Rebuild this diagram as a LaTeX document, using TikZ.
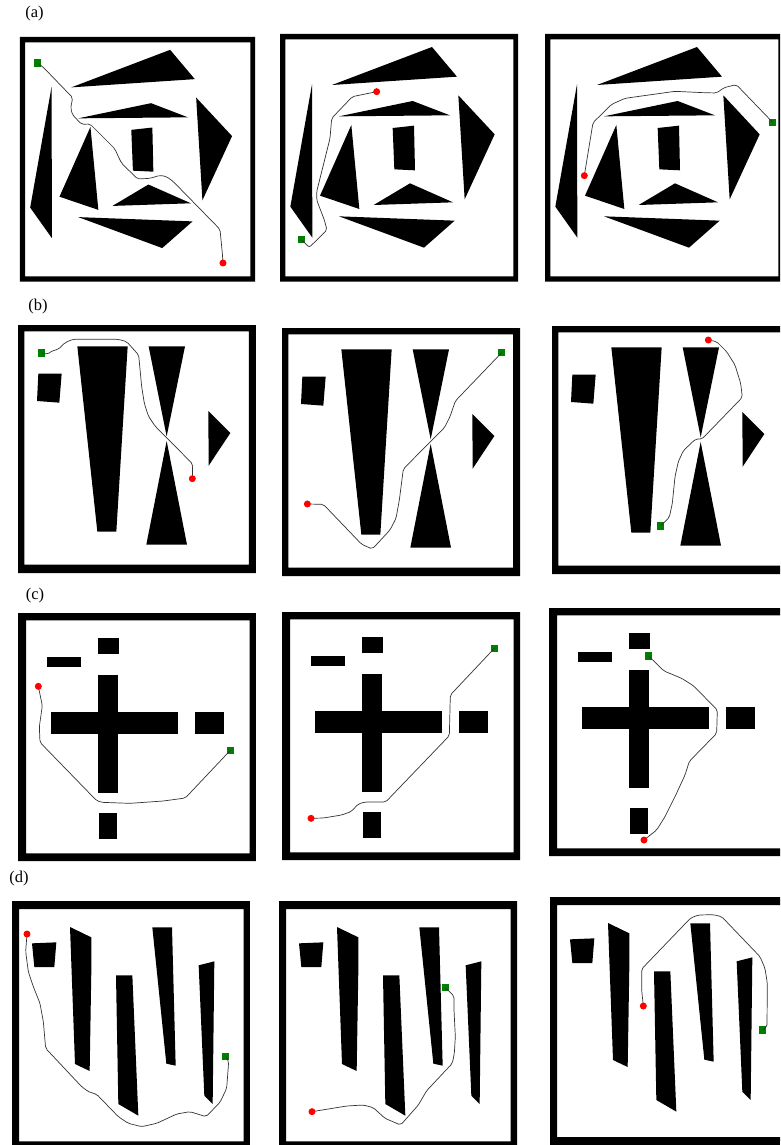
\documentclass[tikz,border=0pt]{standalone}
\usepackage{fontspec}
\setmainfont{Liberation Serif}
\definecolor{goalgreen}{RGB}{0,128,0}
\definecolor{startred}{RGB}{255,0,0}
\tikzset{
  route/.style={draw=black!80,line width=0.7pt,line join=round,rounded corners=2pt},
  goalbox/.style={fill=goalgreen,draw=none,rectangle,minimum width=7pt,minimum height=7.2pt,inner sep=0pt},
  startdot/.style={fill=startred,draw=none,circle,minimum size=7pt,inner sep=0pt},
  panellabel/.style={font=\fontsize{16.5}{19}\selectfont,inner sep=0pt},
  obstacle/.style={fill=black,draw=none}
}
\newcommand{\panelframe}[8]{\fill[black,even odd rule] (#1,#2) rectangle (#3,#4) (#5,#6) rectangle (#7,#8);}
\newcommand{\runroute}[4]{%
  \node[goalbox] (#1g) at (#2) {};
  \coordinate (#1c) at (#3);
  \draw[route] (#1g.center) #4 -- (#1c);
  \node[startdot] (#1r) at (#1c) {};
}
\newcommand{\obstaclesA}{%
  \fill[obstacle] (486,66)--(561,155)--(186,180)--cycle;
  \fill[obstacle] (428,228)--(540,271)--(207,274)--cycle;
  \fill[obstacle] (126,178)--(127,638)--(61,545)--cycle;
  \fill[obstacle] (244,300)--(268,552)--(150,512)--cycle;
  \fill[obstacle] (368,309)--(432,302)--(435,436)--(373,433)--cycle;
  \fill[obstacle] (565,211)--(674,328)--(584,523)--cycle;
  \fill[obstacle] (420,475)--(549,532)--(311,540)--cycle;
  \fill[obstacle] (207,574)--(554,587)--(462,668)--cycle;
  \panelframe{30}{27}{744}{770}{46}{43}{730}{754}
}
\newcommand{\obstaclesB}{%
  \fill[obstacle] (214,88)--(365,88)--(331,644)--(274,644)--cycle;
  \fill[obstacle] (428,88)--(537,88)--(482,358)--cycle;
  \fill[obstacle] (421,683)--(543,683)--(482,372)--cycle;
  \fill[obstacle] (97,170)--(167,170)--(160,257)--(93,252)--cycle;
  \fill[obstacle] (607,282)--(673,348)--(608,446)--cycle;
  \panelframe{36}{24}{750}{768}{55}{43}{729}{743}
}
\newcommand{\obstaclesC}{%
  \fill[obstacle] (276,222) rectangle (336,577);
  \fill[obstacle] (136,333) rectangle (515,400);
  \fill[obstacle] (276,110) rectangle (340,160);
  \fill[obstacle] (124,167) rectangle (226,197);
  \fill[obstacle] (567,333) rectangle (655,398);
  \fill[obstacle] (279,636) rectangle (333,713);
  \panelframe{36}{36}{750}{780}{60}{58}{731}{757}
}
\newcommand{\obstaclesD}{%
  \fill[obstacle] (87,160)--(160,157)--(154,231)--(94,231)--cycle;
  \fill[obstacle] (201,111)--(265,142)--(265,240)--(260,543)--(216,522)--cycle;
  \fill[obstacle] (339,256)--(388,256)--(406,677)--(346,642)--cycle;
  \fill[obstacle] (448,112)--(507,112)--(518,527)--(490,521)--cycle;
  \fill[obstacle] (587,226)--(634,214)--(629,642)--(604,617)--cycle;
  \panelframe{27}{33}{741}{765}{48}{57}{722}{754}
}
\begin{document}
\begin{tikzpicture}[x=1pt,y=-1pt]
\useasboundingbox (0,0) rectangle (780,1145);
\clip (0,0) rectangle (780,1145);
\fill[white] (0,0) rectangle (780,1145);
% labels
\node[panellabel] (la) at (34.5,14) {(a)};
\node[panellabel] (lb) at (38,307) {(b)};
\node[panellabel] (lc) at (35,596) {(c)};
\node[panellabel] (ld) at (19,879) {(d)};
% obstacles and frames
\begin{scope}[shift={(10.1,28.1)},scale=0.3293]\obstaclesA\end{scope}
\begin{scope}[shift={(270,25)},scale=1/3]\obstaclesA\end{scope}
\begin{scope}[shift={(535,25)},scale=1/3]\obstaclesA\end{scope}
\begin{scope}[shift={(6,317)},scale=1/3]\obstaclesB\end{scope}
\begin{scope}[shift={(270,320)},scale=1/3]\obstaclesB\end{scope}
\begin{scope}[shift={(540,318)},scale=1/3]\obstaclesB\end{scope}
\begin{scope}[shift={(6,601)},scale=1/3]\obstaclesC\end{scope}
\begin{scope}[shift={(270,600)},scale=1/3]\obstaclesC\end{scope}
\begin{scope}[shift={(537,596)},scale=1/3]\obstaclesC\end{scope}
\begin{scope}[shift={(3,890)},scale=1/3]\obstaclesD\end{scope}
\begin{scope}[shift={(270,890)},scale=1/3]\obstaclesD\end{scope}
\begin{scope}[shift={(541,886)},scale=1/3]\obstaclesD\end{scope}
\fill[black] (550,1137.3) rectangle (780,1145);
% routes, first column
\begin{scope}[scale=1/3]
\runroute{aone}{112,189}{669,789}{-- (128,200) -- (218,293) -- (212,325) -- (218,345) -- (245,373) -- (270,372) -- (345,447) -- (355,470) -- (365,490) -- (413,537) -- (450,535) -- (480,526) -- (500,530) -- (520,545) -- (660,688) -- (667,760)}
\end{scope}
\begin{scope}[shift={(0,290)},scale=1/3]
\runroute{bone}{125,189}{577,566}{-- (143,193) -- (155,183) -- (175,178) -- (195,158) -- (218,148) -- (355,148) -- (380,155) -- (416,195) -- (425,290) -- (433,340) -- (445,378) -- (465,408) -- (578,522)}
\end{scope}
\begin{scope}[shift={(0,580)},scale=1/3]
\runroute{cone}{691,511}{115,319}{-- (556,654) -- (490,663) -- (390,670) -- (305,667) -- (290,662) -- (120,487) -- (118,440) -- (127,377)}
\end{scope}
\begin{scope}[shift={(0,865)},scale=1/3]
\runroute{done}{678,574}{81,207}{-- (686,590) -- (680,670) -- (660,712) -- (618,755) -- (570,740) -- (530,747) -- (470,775) -- (425,785) -- (385,775) -- (355,755) -- (290,688) -- (265,680) -- (245,665) -- (137,550) -- (130,470) -- (120,415) -- (100,365) -- (85,320) -- (77,260)}
\end{scope}
% routes, other columns
\begin{scope}[shift={(270,25)},scale=1/3]
\runroute{atwo}{94,644}{320,200}{-- (118,667) -- (171,615) -- (163,585) -- (140,525) -- (140,500) -- (170,380) -- (180,340) -- (185,280) -- (247,215)}
\runroute{athree}{1508,292}{943,452}{-- (1399,179) -- (1362,188) -- (1340,204) -- (1300,203) -- (1215,199) -- (1065,220) -- (1025,238) -- (969,293)}
\end{scope}
\begin{scope}[shift={(270,320)},scale=1/3]
\runroute{btwo}{695,98}{112,552}{-- (556,243) -- (540,290) -- (524,322) -- (400,447) -- (388,540) -- (378,595) -- (360,630) -- (307,687) -- (275,673) -- (160,553)}
\runroute{bthree}{1172,618}{1315,60}{-- (1198,592) -- (1207,550) -- (1215,470) -- (1225,425) -- (1240,392) -- (1277,357) -- (1296,357) -- (1417,232) -- (1412,190) -- (1395,135) -- (1370,95) -- (1340,65)}
\end{scope}
\begin{scope}[shift={(270,600)},scale=1/3]
\runroute{ctwo}{673,145}{123,655}{-- (541,285) -- (538,407) -- (347,606) -- (285,606) -- (265,612) -- (243,635) -- (215,645) -- (160,654)}
\runroute{cthree}{1136,168}{1122,720}{-- (1182,213) -- (1235,235) -- (1270,257) -- (1342,330) -- (1340,400) -- (1258,484) -- (1245,525) -- (1215,590) -- (1185,650) -- (1160,690)}
\end{scope}
\begin{scope}[shift={(270,890)},scale=1/3]
\runroute{dtwo}{526,293}{126,665}{-- (552,318) -- (552,360) -- (556,440) -- (553,490) -- (547,520) -- (470,602) -- (445,645) -- (392,705) -- (345,685) -- (310,653) -- (280,645) -- (230,648)}
\runroute{dthree}{1478,420}{1120,348}{-- (1491,410) -- (1492,280) -- (1485,235) -- (1470,200) -- (1355,80) -- (1330,74) -- (1285,75) -- (1262,84) -- (1115,237) -- (1115,300)}
\end{scope}
\end{tikzpicture}
\end{document}
